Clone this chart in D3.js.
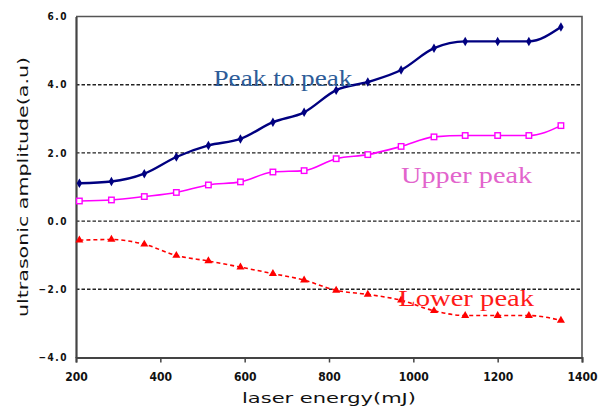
<!DOCTYPE html>
<html>
<head>
<meta charset="utf-8">
<script src="https://cdn.jsdelivr.net/npm/d3@7"></script>
<style>
  html, body { margin: 0; padding: 0; background: #fff; }
  svg { display: block; }
</style>
</head>
<body>
<script>
// ---- data ----
const energy = [208, 284, 362, 438, 514, 590, 667, 741, 817, 892, 971, 1049, 1123, 1200, 1274, 1350];
const peakToPeak = [1.11, 1.16, 1.39, 1.88, 2.22, 2.41, 2.90, 3.19, 3.84, 4.08, 4.43, 5.07, 5.27, 5.27, 5.27, 5.69];
const upperPeak = [0.59, 0.62, 0.72, 0.84, 1.06, 1.15, 1.44, 1.48, 1.83, 1.95, 2.19, 2.47, 2.51, 2.51, 2.51, 2.80];
const lowerPeak = [-0.56, -0.54, -0.68, -1.01, -1.17, -1.35, -1.54, -1.73, -2.03, -2.15, -2.32, -2.63, -2.77, -2.77, -2.77, -2.91];
const xTicks = [200, 400, 600, 800, 1000, 1200, 1400];
const yTicks = [-4, -2, 0, 2, 4, 6];
const gridValues = [-2, 0, 2, 4];
const seriesNames = ["Peak to peak", "Upper peak", "Lower peak"];
const xTitle = "laser energy(mJ)";
const yTitle = "ultrasonic amplitude(a.u)";

// ---- layout ----
const W = 608, H = 412;
const L = 76, R = 582, T = 16.5, B = 357.5;

const svg = d3.select("body").append("svg").attr("width", W).attr("height", H);

const x = d3.scaleLinear().domain([200, 1400]).range([L, R]);
const y = d3.scaleLinear().domain([-4, 6]).range([B, T]);

// gridlines
svg.append("g").selectAll("line").data(gridValues).join("line")
  .attr("x1", L).attr("x2", R)
  .attr("y1", d => y(d)).attr("y2", d => y(d))
  .attr("stroke", "#222").attr("stroke-width", 1.4)
  .attr("stroke-dasharray", "3.5,2");

// frame (top/right)
svg.append("path")
  .attr("d", `M${L},${T}H${R}V${B}`)
  .attr("fill", "none").attr("stroke", "#555").attr("stroke-width", 1.6);

// x axis
const xAxis = svg.append("g").attr("transform", `translate(0,${B})`)
  .call(d3.axisBottom(x).tickValues(xTicks).tickSize(5).tickPadding(8).tickFormat(d3.format("d")));
xAxis.select(".domain").attr("stroke", "#444").attr("stroke-width", 2);
xAxis.selectAll(".tick line").attr("stroke", "#444").attr("stroke-width", 1.5);
xAxis.selectAll("text")
  .attr("font-family", "'DejaVu Sans Condensed', 'DejaVu Sans', sans-serif")
  .attr("font-weight", "bold").attr("font-size", 12).attr("fill", "#111")
  .attr("dy", "0.9em");

// y axis
const yAxis = svg.append("g").attr("transform", `translate(${L},0)`)
  .call(d3.axisLeft(y).tickValues(yTicks).tickSize(0).tickPadding(8).tickFormat(d3.format(".1f")));
yAxis.select(".domain").attr("stroke", "#444").attr("stroke-width", 2.2);
yAxis.selectAll("text")
  .attr("font-family", "'DejaVu Sans Condensed', 'DejaVu Sans', sans-serif")
  .attr("font-weight", "bold").attr("font-size", 10).attr("fill", "#111")
  .attr("letter-spacing", 1.5);

// axis titles
svg.append("text")
  .attr("x", (L + R) / 2).attr("y", 403)
  .attr("text-anchor", "middle")
  .attr("font-family", "'DejaVu Sans', sans-serif")
  .attr("font-size", 14).attr("fill", "#111")
  .attr("textLength", 174).attr("lengthAdjust", "spacingAndGlyphs")
  .text(xTitle);

svg.append("text")
  .attr("transform", `translate(28,187) rotate(-90)`)
  .attr("text-anchor", "middle")
  .attr("font-family", "'DejaVu Sans', sans-serif")
  .attr("font-size", 14).attr("fill", "#111")
  .attr("textLength", 260).attr("lengthAdjust", "spacingAndGlyphs")
  .text(yTitle);

// series
const pts = vals => energy.map((e, i) => [e, vals[i]]);
const line = d3.line().x(d => x(d[0])).y(d => y(d[1])).curve(d3.curveMonotoneX);

// Lower peak (red dashed, triangles)
svg.append("path").datum(pts(lowerPeak)).attr("d", line)
  .attr("fill", "none").attr("stroke", "#ff0000").attr("stroke-width", 1.6)
  .attr("stroke-dasharray", "4,3");
svg.append("g").selectAll("path").data(pts(lowerPeak)).join("path")
  .attr("transform", d => `translate(${x(d[0])},${y(d[1])})`)
  .attr("d", d3.symbol(d3.symbolTriangle, 28))
  .attr("fill", "#ff0000");

// Upper peak (magenta, hollow squares)
svg.append("path").datum(pts(upperPeak)).attr("d", line)
  .attr("fill", "none").attr("stroke", "#ff00ff").attr("stroke-width", 1.6);
svg.append("g").selectAll("rect").data(pts(upperPeak)).join("rect")
  .attr("x", d => x(d[0]) - 2.75).attr("y", d => y(d[1]) - 2.75)
  .attr("width", 5.5).attr("height", 5.5)
  .attr("fill", "#fff").attr("stroke", "#ff00ff").attr("stroke-width", 1.4);

// Peak to peak (navy, diamonds)
svg.append("path").datum(pts(peakToPeak)).attr("d", line)
  .attr("fill", "none").attr("stroke", "#000080").attr("stroke-width", 2.4);
svg.append("g").selectAll("path").data(pts(peakToPeak)).join("path")
  .attr("transform", d => `translate(${x(d[0])},${y(d[1])})`)
  .attr("d", d3.symbol(d3.symbolDiamond, 26))
  .attr("fill", "#000080");

// series labels
const labelFont = "'Liberation Serif', 'Times New Roman', serif";
svg.append("text").attr("x", x(526)).attr("y", y(3.97))
  .attr("font-family", labelFont).attr("font-size", 24).attr("fill", "#2d5c98")
  .attr("textLength", 139).attr("lengthAdjust", "spacingAndGlyphs")
  .text(seriesNames[0]);
svg.append("text").attr("x", x(971)).attr("y", y(1.12))
  .attr("font-family", labelFont).attr("font-size", 24).attr("fill", "#e264cc")
  .attr("textLength", 131).attr("lengthAdjust", "spacingAndGlyphs")
  .text(seriesNames[1]);
svg.append("text").attr("x", x(964)).attr("y", y(-2.49))
  .attr("font-family", labelFont).attr("font-size", 24).attr("fill", "#ff1a1a")
  .attr("textLength", 136).attr("lengthAdjust", "spacingAndGlyphs")
  .text(seriesNames[2]);
</script>
</body>
</html>
